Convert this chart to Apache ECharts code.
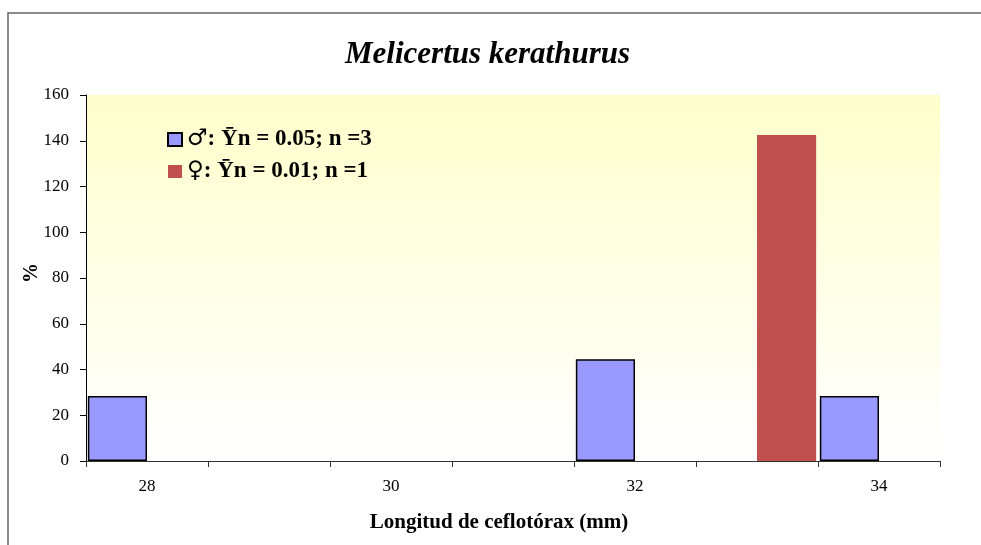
<!DOCTYPE html>
<html>
<head>
<meta charset="utf-8">
<script src="https://cdn.jsdelivr.net/npm/echarts@6/dist/echarts.min.js"></script>
<style>
html,body{margin:0;padding:0;background:#fff;}
#chart{width:981px;height:545px;}
</style>
</head>
<body>
<div id="chart"></div>
<script>
var categories = ['28', '29', '30', '31', '32', '33', '34'];
var maleValues = [28.4, null, null, null, 44.5, null, 28.4];
var femaleValues = [null, null, null, null, null, 142.5, null];
var seriesNames = ['\u2642: \u0232n = 0.05; n =3', '\u2640: \u0232n = 0.01; n =1'];
var titleText = 'Melicertus kerathurus';
var xName = 'Longitud de ceflot\u00f3rax (mm)';
var yName = '%';

var serif = '"Liberation Serif", "Times New Roman", serif';
var chart = echarts.init(document.getElementById('chart'));
chart.setOption({
  backgroundColor: '#fff',
  animation: false,
  graphic: [{
    type: 'rect',
    shape: {x: 8, y: 13, width: 990, height: 550},
    style: {fill: 'none', stroke: '#666', lineWidth: 1.5},
    silent: true
  }, {
    type: 'text',
    x: 32,
    y: 273,
    rotation: Math.PI / 2,
    style: {
      text: yName,
      fontFamily: serif,
      fontSize: 20,
      fontWeight: 'bold',
      fill: '#000',
      align: 'center',
      verticalAlign: 'middle'
    },
    silent: true
  }],
  title: {
    text: titleText,
    left: 340,
    top: 34,
    textStyle: {fontFamily: serif, fontSize: 31, fontWeight: 'bold', fontStyle: 'italic', color: '#000'}
  },
  legend: {
    orient: 'vertical',
    left: 167,
    top: 128,
    padding: 0,
    itemWidth: 14,
    itemHeight: 13,
    itemGap: 9,
    icon: 'rect',
    formatter: function (name) {
      var sym = name.charAt(0);
      return '{sym|' + sym + '}{txt|' + name.slice(1) + '}';
    },
    textStyle: {
      color: '#000',
      rich: {
        sym: {fontFamily: '"DejaVu Sans", sans-serif', fontSize: 23, fontWeight: 'normal', color: '#000', lineHeight: 24},
        txt: {fontFamily: serif, fontSize: 23, fontWeight: 'bold', color: '#000', lineHeight: 24}
      }
    },
    data: seriesNames
  },
  grid: {
    left: 86, right: 41, top: 95, bottom: 84,
    show: true,
    borderWidth: 0,
    backgroundColor: new echarts.graphic.LinearGradient(0, 0, 0, 1, [
      {offset: 0, color: '#FFFFCC'},
      {offset: 1, color: '#FFFFFF'}
    ])
  },
  xAxis: {
    type: 'category',
    data: categories,
    name: xName,
    nameLocation: 'middle',
    nameGap: 51,
    nameTextStyle: {fontFamily: serif, fontSize: 21, fontWeight: 'bold', color: '#000', padding: [0, 28, 0, 0]},
    axisLine: {lineStyle: {color: '#333', width: 1}},
    axisTick: {show: true, interval: 0, length: 6, lineStyle: {color: '#333'}},
    axisLabel: {interval: 1, margin: 17, fontFamily: serif, fontSize: 17, color: '#000'},
    splitLine: {show: false}
  },
  yAxis: {
    type: 'value',
    min: 0, max: 160, interval: 20,
    axisLine: {show: true, lineStyle: {color: '#000', width: 1}},
    axisTick: {show: true, length: 6, lineStyle: {color: '#000'}},
    axisLabel: {margin: 17, fontFamily: serif, fontSize: 17, color: '#000'},
    splitLine: {show: false}
  },
  series: [{
    name: seriesNames[0],
    type: 'bar',
    data: maleValues,
    barGap: '0%',
    barCategoryGap: '3%',
    itemStyle: {color: '#9999FF', borderColor: '#000', borderWidth: 1.5}
  }, {
    name: seriesNames[1],
    type: 'bar',
    data: femaleValues,
    itemStyle: {color: '#C0504D'}
  }]
});
</script>
</body>
</html>
